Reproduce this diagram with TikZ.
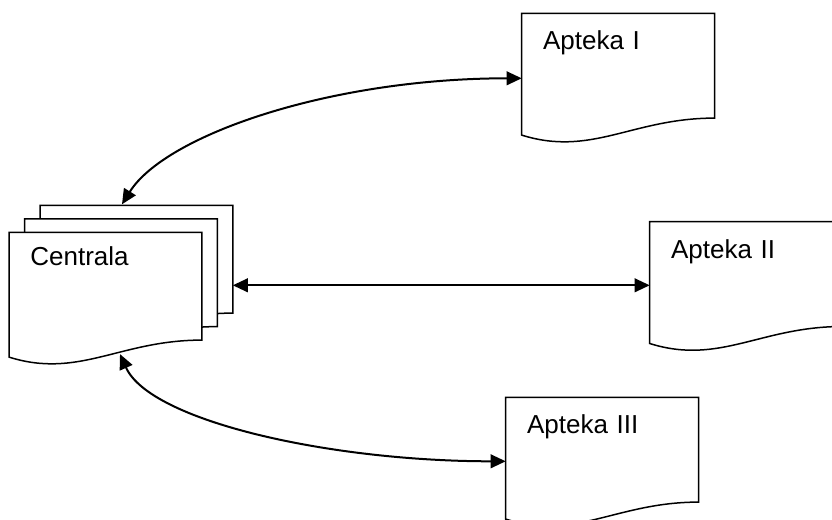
\documentclass[tikz,border=0pt]{standalone}
\usepackage{fontspec}
\setmainfont{Liberation Sans}
\usetikzlibrary{arrows.meta, calc, backgrounds}
\tikzset{
  doc/.style={anchor=north west, inner xsep=10.5pt, inner ysep=0pt, text width=75pt, align=left,
    text height=18pt, text depth=42.5pt, font=\fontsize{13}{15}\selectfont},
  cdoc/.style={doc, text height=16.5pt, text depth=45.5pt},
  outl/.style={draw=black, line width=0.75pt, fill=white},
  dblarr/.style={{Triangle[length=7.5pt,width=6.8pt]}-{Triangle[length=7.5pt,width=6.8pt]},
    line width=1pt, draw=black}
}
\newcommand\docoutline[1]{%
  \begin{scope}[on background layer]
  \draw[outl] (#1.north west) -- (#1.north east) -- ([shift={(0,-17)}]#1.south east)
    .. controls ([shift={(-82,-17)}]#1.south east) and ([shift={(70,22)}]#1.south west)
    .. (#1.south west) -- cycle;
  \end{scope}}

\begin{document}
\begin{tikzpicture}[x=0.5pt, y=-0.5pt]
\useasboundingbox (0,0) rectangle (832,520);
% ---------- centrala (stack of three) ----------
\node[cdoc] (cback) at (40,205.3) {};
\docoutline{cback}
\node[cdoc] (cmid) at (24.5,218.8) {};
\docoutline{cmid}
\node[cdoc] (centrala) at (9,232.3) {Centrala};
\docoutline{centrala}
% ---------- apteki ----------
\node[doc] (apt1) at (521.7,13.3) {Apteka I};
\docoutline{apt1}
\node[doc] (apt2) at (649.7,221.7) {Apteka II};
\docoutline{apt2}
\node[doc] (apt3) at (505.7,397.3) {Apteka III};
\docoutline{apt3}
% ---------- connections ----------
\draw[dblarr] ([shift={(82,-1)}]cback.north west)
  .. controls +(43,-69) and +(-192,0) .. ([shift={(0,65)}]apt1.north west);
\coordinate (midL) at ([shift={(0,80)}]cback.north east);
\draw[dblarr] (midL) -- (midL -| apt2.west);
\draw[dblarr] ([shift={(111,-3)}]centrala.south west)
  .. controls +(30,67) and +(-176,0) .. ([shift={(0,64)}]apt3.north west);
\end{tikzpicture}
\end{document}
